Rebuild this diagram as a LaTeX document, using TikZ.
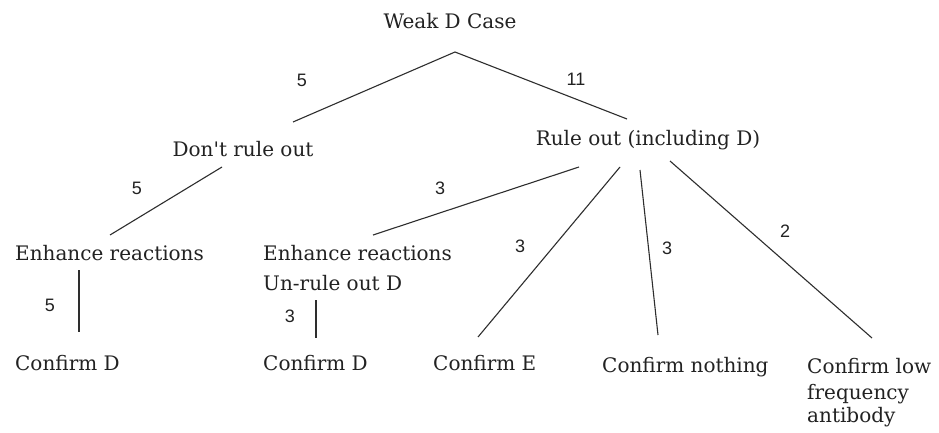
\documentclass[tikz,border=0pt]{standalone}
\usepackage{fontspec}
\setmainfont{DejaVu Serif}
\newfontfamily\numfont{Liberation Sans}
\usetikzlibrary{calc}
\definecolor{ink}{HTML}{222222}
\definecolor{wire}{HTML}{2E2E2E}
\tikzset{
  lbl/.style={inner sep=0pt, text=ink, font=\fontsize{20}{24}\selectfont, anchor=base west},
  num/.style={inner sep=0pt, text=ink, font=\numfont\fontsize{18}{21}\selectfont},
  link/.style={draw=wire, line width=1.1pt}
}
\begin{document}
\begin{tikzpicture}[x=1pt, y=-1pt]
  \path[use as bounding box, fill=white] (0,0) rectangle (939,433);

  % tree nodes
  \node[lbl, anchor=base] (root) at (450,29) {Weak D Case};
  \node[lbl, anchor=base] (dont) at (243,157) {Don\textquotesingle t rule out};
  \node[lbl, anchor=base] (rule) at (648,146) {Rule out (including D)};
  \node[lbl] (enh1) at (15,260) {Enhance reactions};
  \node[lbl] (enh2) at (263,260) {Enhance reactions};
  \node[lbl] (unrule) at (263,290) {Un-rule out D};
  \node[lbl] (confD1) at (15,370) {Confirm D};
  \node[lbl] (confD2) at (263,370) {Confirm D};
  \node[lbl] (confE) at (433,370) {Confirm E};
  \node[lbl] (confN) at (602,372) {Confirm nothing};
  \node[lbl] (confL) at (807,373) {Confirm low};
  \node[lbl] (freq) at (807,399) {frequency};
  \node[lbl] (anti) at (807,422) {antibody};

  % branches
  \coordinate (apex) at ($(root.base)+(5,23)$);
  \draw[link] ($(dont.base)+(50,-35)$) -- (apex) -- ($(rule.base)+(-21,-27)$);
  \draw[link] ($(dont.base)+(-21,10)$) -- ($(enh1.base west)+(95,-25)$);
  \draw[link] ($(rule.base)+(-69,21)$) -- ($(enh2.base west)+(110,-25)$);
  \draw[link] ($(rule.base)+(-28,21)$) -- ($(confE.base west)+(45,-33)$);
  \draw[link] ($(rule.base)+(-8,24)$) -- ($(confN.base west)+(56,-37)$);
  \draw[link] ($(rule.base)+(22,15)$) -- ($(confL.base west)+(65,-35)$);
  \draw[link] ($(enh1.base west)+(64,10)$) -- ($(confD1.base west)+(64,-38)$);
  \draw[link] ($(unrule.base west)+(53,10)$) -- ($(confD2.base west)+(53,-32)$);

  % case counts
  \node[num] (n1) at (302,80) {5};
  \node[num] (n2) at (576,79) {11};
  \node[num] (n3) at (137,188) {5};
  \node[num] (n4) at (440,188) {3};
  \node[num] (n5) at (520,246) {3};
  \node[num] (n6) at (667,248) {3};
  \node[num] (n7) at (785,231) {2};
  \node[num] (n8) at (50,305) {5};
  \node[num] (n9) at (290,316) {3};
\end{tikzpicture}
\end{document}
